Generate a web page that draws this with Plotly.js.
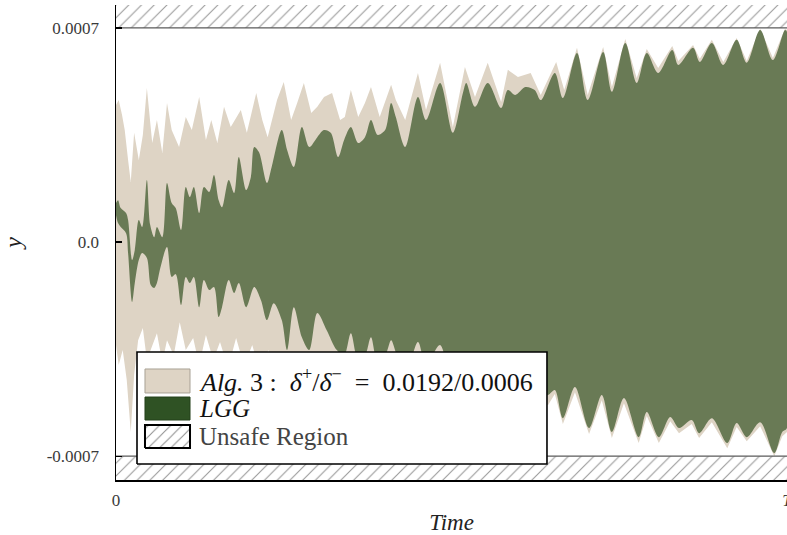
<!DOCTYPE html>
<html>
<head>
<meta charset="utf-8">
<script src="https://cdn.plot.ly/plotly-3.0.1.min.js"></script>
<style>html,body{margin:0;padding:0;background:#fff;}#chart{width:787px;height:535px;}</style>
</head>
<body>
<div id="chart"></div>
<script>
// ---- data (time normalised to [0, T]; y values in units of 1e-4) ----
// LGG reachable set, upper envelope
const guX = [0,0.003,0.007,0.015,0.018,0.024,0.028,0.034,0.039,0.046,0.051,0.057,0.061,0.069,0.076,0.083,0.089,0.097,0.104,0.110,0.116,0.124,0.131,0.139,0.146,0.153,0.158,0.168,0.176,0.183,0.194,0.201,0.206,0.213,0.225,0.232,0.247,0.255,0.265,0.277,0.288,0.300,0.310,0.320,0.331,0.340,0.350,0.361,0.371,0.380,0.390,0.401,0.410,0.417,0.431,0.450,0.462,0.483,0.502,0.517,0.522,0.535,0.554,0.574,0.584,0.595,0.610,0.624,0.633,0.654,0.666,0.687,0.703,0.726,0.739,0.759,0.776,0.791,0.808,0.829,0.838,0.860,0.870,0.888,0.905,0.925,0.940,0.960,0.979,0.997,1.0];
const guY = [1.28,1.37,1.11,0.95,0.72,-0.59,-0.26,0.72,0.49,2.03,0.56,0.16,0.49,0.16,1.93,1.28,1.11,0.39,1.80,1.47,1.80,0.95,1.80,1.64,2.19,1.37,1.14,2.03,1.60,2.78,1.70,2.13,3.11,2.94,1.93,2.45,3.66,3.01,2.45,3.76,3.11,3.43,3.66,3.57,2.78,3.34,3.76,3.24,3.43,3.99,3.50,3.66,4.55,4.09,3.11,4.74,3.99,5.20,3.57,4.87,5.20,4.42,5.20,4.38,4.97,4.81,5.07,4.97,4.64,5.53,4.71,6.18,4.64,6.21,4.91,6.51,5.20,6.18,5.53,6.28,5.79,6.35,5.89,6.51,5.79,6.61,5.86,6.93,5.95,6.93,6.87];
// LGG reachable set, lower envelope
const glX = [0,0.003,0.007,0.015,0.018,0.024,0.028,0.034,0.039,0.046,0.052,0.057,0.061,0.066,0.076,0.083,0.089,0.097,0.104,0.110,0.116,0.124,0.131,0.139,0.146,0.153,0.158,0.168,0.176,0.183,0.194,0.206,0.216,0.225,0.235,0.247,0.255,0.265,0.277,0.288,0.300,0.314,0.329,0.340,0.350,0.361,0.371,0.380,0.390,0.401,0.410,0.417,0.431,0.450,0.462,0.483,0.502,0.522,0.535,0.554,0.574,0.584,0.595,0.610,0.624,0.633,0.644,0.654,0.666,0.684,0.705,0.724,0.739,0.757,0.779,0.791,0.809,0.826,0.839,0.858,0.869,0.888,0.911,0.925,0.940,0.960,0.981,0.993,1.0];
const glY = [0.88,0.62,0.49,0.29,-0.36,-1.96,-1.34,-0.59,-0.36,-0.52,-1.41,-1.50,-1.34,-0.85,-0.16,-1.14,-1.05,-2.06,-1.14,-1.34,-1.14,-2.13,-1.24,-1.57,-1.47,-2.45,-2.13,-1.24,-1.67,-1.34,-2.13,-1.47,-1.90,-2.55,-2.00,-2.55,-3.53,-2.13,-3.11,-3.53,-2.32,-2.88,-3.53,-3.70,-2.98,-3.86,-3.73,-3.11,-3.93,-3.73,-3.21,-3.60,-4.35,-3.27,-4.02,-3.37,-4.84,-3.73,-4.19,-4.02,-4.68,-4.25,-4.51,-4.45,-4.68,-5.00,-5.00,-4.84,-5.76,-4.74,-6.08,-5.00,-6.21,-5.10,-6.38,-5.56,-6.38,-5.72,-6.08,-5.82,-6.25,-5.76,-6.57,-5.92,-6.38,-5.89,-6.90,-6.21,-6.08];
// Alg. 3 reachable set, upper envelope
const buX = [0,0.004,0.009,0.013,0.018,0.022,0.027,0.034,0.040,0.046,0.054,0.061,0.069,0.076,0.083,0.094,0.104,0.113,0.124,0.134,0.142,0.151,0.161,0.171,0.186,0.195,0.209,0.218,0.226,0.240,0.250,0.261,0.270,0.280,0.291,0.300,0.310,0.322,0.334,0.341,0.350,0.361,0.371,0.380,0.393,0.410,0.417,0.431,0.450,0.462,0.483,0.502,0.520,0.535,0.554,0.574,0.584,0.599,0.618,0.633,0.656,0.668,0.687,0.703,0.726,0.739,0.759,0.776,0.791,0.808,0.829,0.838,0.860,0.870,0.888,0.905,0.925,0.940,0.960,0.979,0.997,1.0];
const buY = [4.48,4.64,4.15,3.66,2.68,1.96,3.57,2.68,3.50,5.04,3.24,3.99,2.91,4.55,3.66,3.11,4.09,3.66,4.74,3.34,3.99,3.24,4.42,3.76,4.32,3.57,4.87,3.99,3.43,4.64,5.23,3.99,4.55,5.20,4.22,4.42,4.74,4.87,3.99,4.09,4.97,4.09,4.55,5.07,4.09,5.14,4.64,3.99,5.53,4.32,5.86,3.76,5.72,4.74,5.86,4.58,5.63,5.40,5.53,4.81,5.89,4.97,6.35,4.81,6.38,5.07,6.64,5.36,6.31,5.69,6.41,5.92,6.44,5.99,6.61,5.89,6.67,5.92,6.97,6.02,6.97,6.93];
// Alg. 3 reachable set, lower envelope
const blX = [0,0.004,0.010,0.016,0.022,0.027,0.033,0.040,0.046,0.054,0.061,0.069,0.076,0.086,0.095,0.104,0.115,0.124,0.134,0.145,0.155,0.167,0.179,0.191,0.203,0.215,0.227,0.238,0.250,0.262,0.277,0.292,0.307,0.323,0.340,0.350,0.361,0.380,0.390,0.410,0.431,0.450,0.462,0.483,0.502,0.522,0.535,0.554,0.574,0.595,0.610,0.633,0.644,0.654,0.666,0.684,0.705,0.724,0.739,0.757,0.779,0.791,0.809,0.826,0.839,0.858,0.869,0.888,0.911,0.925,0.940,0.960,0.981,0.993,1.0];
const blY = [-3.37,-4.02,-3.53,-4.51,-6.21,-4.35,-3.21,-2.81,-3.86,-3.37,-2.98,-3.93,-3.21,-3.70,-2.62,-3.53,-3.14,-4.02,-3.04,-3.86,-3.27,-4.12,-3.14,-4.06,-3.37,-4.25,-3.53,-4.35,-3.73,-4.51,-3.93,-4.68,-3.99,-4.84,-4.12,-3.86,-4.45,-4.02,-4.51,-4.12,-4.91,-4.25,-4.64,-4.19,-5.23,-4.35,-4.78,-4.51,-5.10,-4.91,-4.91,-5.33,-5.33,-4.97,-5.95,-4.91,-6.28,-5.17,-6.41,-5.27,-6.57,-5.69,-6.57,-5.86,-6.25,-5.95,-6.41,-5.89,-6.74,-6.05,-6.51,-6.02,-7.00,-6.35,-6.21];
const unsafeBound = 0.0007;
const yTickVals = [0.0007, 0, -0.0007];
const yTickText = ['0.0007', '0.0', '-0.0007'];
const xTickVals = [0, 1];
const xTickText = ['0', '<i>T</i>'];
const legendLabels = ['<i>Alg.</i> 3 :  <i>δ</i><sup>+</sup>/<i>δ</i><sup>−</sup>  =  0.0192/0.0006', '<i>LGG</i>', 'Unsafe Region'];

// ---- build ----
const S = 1e-4;
const toVal = a => a.map(v => v * S);
function band(ux, uy, lx, ly) {
  return { x: ux.concat(lx.slice().reverse()), y: toVal(uy.concat(ly.slice().reverse())) };
}
const BEIGE = '#ded4c5', GREEN = '#697a55', GREEN_DARK = '#2f5224';
const FONT = "'Liberation Serif', 'DejaVu Serif', serif";
const hatch = { shape: '/', fgcolor: '#9a9a9a', bgcolor: '#ffffff', size: 9, solidity: 0.12 };

const b = band(buX, buY, blX, blY);
const g = band(guX, guY, glX, glY);
const traces = [
  { x: b.x, y: b.y, mode: 'lines', fill: 'toself', fillcolor: BEIGE, line: { width: 0 }, hoverinfo: 'skip', showlegend: false },
  { x: g.x, y: g.y, mode: 'lines', fill: 'toself', fillcolor: GREEN, line: { width: 0, shape: 'spline', smoothing: 0.9 }, hoverinfo: 'skip', showlegend: false },
  { x: [0, 1, 1, 0], y: [unsafeBound, unsafeBound, 0.001, 0.001], mode: 'lines', fill: 'toself', fillcolor: '#ffffff', fillpattern: hatch, line: { width: 0 }, hoverinfo: 'skip', showlegend: false },
  { x: [0, 1, 1, 0], y: [-unsafeBound, -unsafeBound, -0.001, -0.001], mode: 'lines', fill: 'toself', fillcolor: '#ffffff', fillpattern: hatch, line: { width: 0 }, hoverinfo: 'skip', showlegend: false },
  { x: [0, 1, null, 0, 1], y: [unsafeBound, unsafeBound, null, -unsafeBound, -unsafeBound], mode: 'lines', line: { color: '#5a5a5a', width: 1.3 }, hoverinfo: 'skip', showlegend: false }
];

// hand-drawn legend (in plot-area fractions, on an overlay axis pair)
const L = { x0: 0.0313, x1: 0.6423, y0: 0.0337, y1: 0.2695 };
const sw = { x0: 0.0432, x1: 0.1103 };
const rows = [[0.1832, 0.2337], [0.1263, 0.1747], [0.0674, 0.1158]];
function rect(x0, x1, y0, y1) { return { x: [x0, x1, x1, x0, x0], y: [y0, y0, y1, y1, y0] }; }
const box = rect(L.x0, L.x1, L.y0, L.y1);
traces.push({ x: box.x, y: box.y, xaxis: 'x2', yaxis: 'y2', mode: 'lines', fill: 'toself', fillcolor: '#ffffff', line: { color: '#000', width: 1.6 }, hoverinfo: 'skip', showlegend: false });
const styles = [
  { fillcolor: BEIGE, line: { color: '#a8a195', width: 1 } },
  { fillcolor: GREEN_DARK, line: { color: '#24401b', width: 1 } },
  { fillcolor: '#ffffff', fillpattern: { shape: '/', fgcolor: '#8a8a8a', bgcolor: '#ffffff', size: 8, solidity: 0.12 }, line: { color: '#000', width: 2 } }
];
rows.forEach((r, i) => {
  const q = rect(sw.x0, sw.x1, r[0], r[1]);
  traces.push(Object.assign({ x: q.x, y: q.y, xaxis: 'x2', yaxis: 'y2', mode: 'lines', fill: 'toself', hoverinfo: 'skip', showlegend: false }, styles[i]));
});
const annotations = legendLabels.map((t, i) => ({
  text: t, xref: 'paper', yref: 'paper', x: 0.1207, y: (rows[i][0] + rows[i][1]) / 2,
  xanchor: 'left', yanchor: 'middle', showarrow: false,
  font: { family: FONT, size: i === 0 ? 26 : 25, color: i === 2 ? '#444' : '#111' }
}));

const layout = {
  width: 787, height: 535,
  margin: { l: 116, r: 0, t: 5, b: 55 },
  paper_bgcolor: '#fff', plot_bgcolor: '#fff',
  showlegend: false,
  font: { family: FONT, color: '#3a3a3a' },
  xaxis: {
    range: [0, 1], showgrid: false, zeroline: false,
    showline: true, linecolor: '#000', linewidth: 1.5,
    ticks: 'inside', ticklen: 6, tickcolor: '#000', tickwidth: 1.2,
    tickvals: xTickVals, ticktext: xTickText, ticklabelstandoff: 4,
    ticklabeloverflow: 'allow',
    tickfont: { family: FONT, size: 17, color: '#3a3a3a' },
    title: { text: '<i>Time</i>', font: { family: FONT, size: 23, color: '#222' }, standoff: 8 }
  },
  yaxis: {
    range: [-0.000778, 0.000775], showgrid: false, zeroline: false,
    showline: true, linecolor: '#000', linewidth: 1.5,
    ticks: 'inside', ticklen: 6, tickcolor: '#000', tickwidth: 1.2,
    tickvals: yTickVals, ticktext: yTickText, ticklabelstandoff: 12,
    ticklabeloverflow: 'allow',
    tickfont: { family: FONT, size: 17, color: '#3a3a3a' },
    title: { text: '<i>y</i>', font: { family: FONT, size: 24, color: '#222' }, standoff: 20 }
  },
  xaxis2: { overlaying: 'x', range: [0, 1], visible: false, fixedrange: true },
  yaxis2: { overlaying: 'y', range: [0, 1], visible: false, fixedrange: true },
  annotations: annotations
};

Plotly.newPlot('chart', traces, layout, { staticPlot: true, displayModeBar: false });
</script>
</body>
</html>
